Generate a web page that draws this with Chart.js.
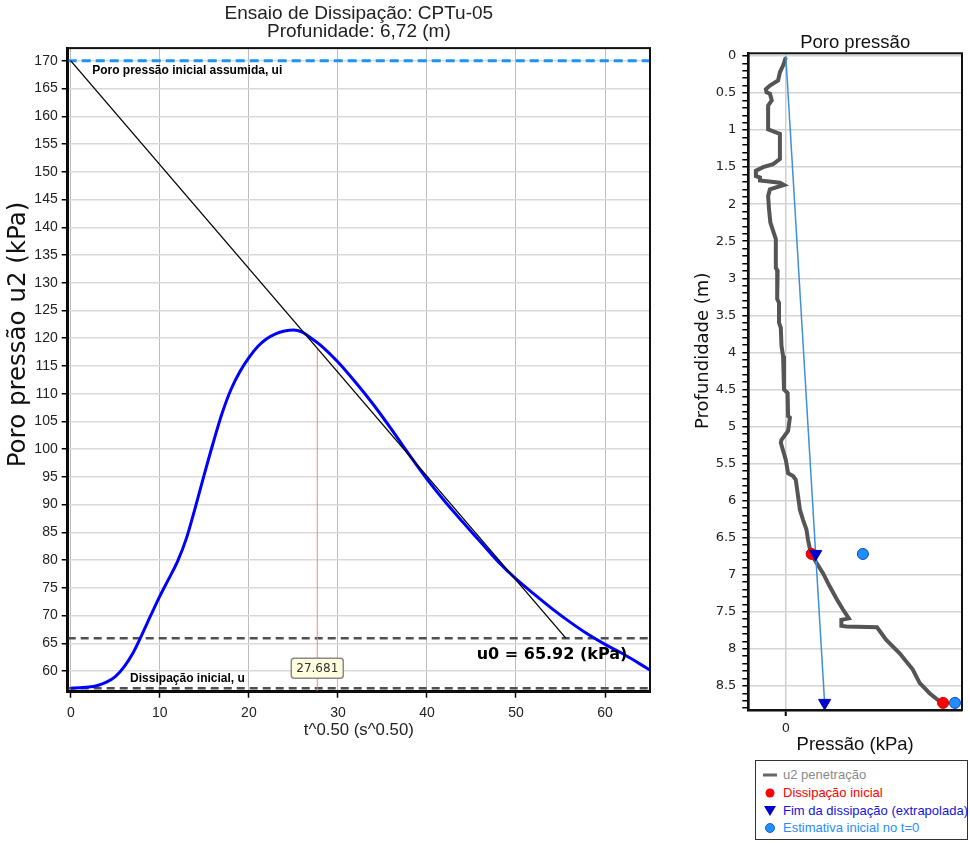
<!DOCTYPE html>
<html>
<head>
<meta charset="utf-8">
<script src="https://cdn.jsdelivr.net/npm/chart.js@4.4.0/dist/chart.umd.min.js"></script>
<style>
body { margin: 0; background: #fff; width: 970px; height: 843px; position: relative; overflow: hidden; font-family: "Liberation Sans", Arial, sans-serif; }
#grafDiss { position: absolute; left: 0; top: 0; }
#grafPerfil { position: absolute; left: 680px; top: 0; }
#legenda { position: absolute; left: 755px; top: 760px; width: 211px; height: 78px; border: 1.5px solid #333; background: #fff; }
.item { position: absolute; left: 0; height: 18px; line-height: 18px; font-size: 13px; white-space: nowrap; }
.item svg { position: absolute; left: 6px; top: 2px; }
.item span { position: absolute; left: 27px; top: 0; }
</style>
</head>
<body>
<canvas id="grafDiss" width="660" height="760"></canvas>
<canvas id="grafPerfil" width="290" height="760"></canvas>
<div id="legenda"></div>
<script>
// ensaio de dissipacao CPTu-05, prof. 6,72 m
var tempoRaiz = [0, 1, 2, 3, 4, 5, 6, 7, 8, 9, 10, 11, 12, 13, 14, 15, 16, 17, 18, 19, 20, 21, 22, 23, 24, 25, 26, 27, 28, 30, 32, 34, 36, 38, 40, 42, 44, 46, 48, 50, 52, 54, 56, 58, 60, 62, 64, 65];
var poroPressao = [56.9, 57.0, 57.1, 57.4, 58.0, 59.0, 60.8, 63.3, 66.6, 70.1, 73.5, 76.6, 79.8, 84.0, 89.6, 95.5, 101.2, 106.5, 110.8, 114.0, 116.5, 118.5, 119.9, 120.8, 121.3, 121.5, 121.1, 120.0, 118.8, 115.7, 112.0, 108.0, 103.6, 99.0, 94.6, 90.6, 86.9, 83.3, 79.7, 76.6, 73.9, 71.3, 68.9, 66.7, 64.8, 63.1, 61.2, 60.2];
var uiAssumida = 170;
var uInicial = 56.9;
var u0 = 65.92;
var tangenteX = [0, 55.6];
var tangenteY = [170, 65.92];
var t50 = 27.681;
var xTicksDiss = [0, 10, 20, 30, 40, 50, 60];
var yTicksDiss = [60, 65, 70, 75, 80, 85, 90, 95, 100, 105, 110, 115, 120, 125, 130, 135, 140, 145, 150, 155, 160, 165, 170];

// perfil de poro pressao
var profU2 = [0.02, 0.13, 0.22, 0.33, 0.40, 0.45, 0.49, 0.51, 0.60, 0.67, 0.99, 1.05, 1.39, 1.46, 1.50, 1.55, 1.62, 1.64, 1.68, 1.71, 1.74, 1.80, 1.89, 2.07, 2.25, 2.36, 2.47, 2.86, 2.90, 3.01, 3.28, 3.33, 3.60, 3.67, 3.91, 4.05, 4.50, 4.55, 4.86, 4.88, 5.06, 5.18, 5.22, 5.45, 5.63, 5.67, 5.72, 5.94, 6.12, 6.26, 6.39, 6.53, 6.71, 6.84, 6.98, 7.16, 7.32, 7.47, 7.59, 7.61, 7.69, 7.70, 7.71, 7.88, 8.06, 8.28, 8.46, 8.60, 8.71, 8.73];
var u2Penetracao = [0, -6, -13, -17, -35, -44, -42.5, -35, -31, -39, -39, -13, -13, -28, -50, -66, -66, -57, -57, -13, -4, -35, -39, -37, -34, -28, -22, -22, -18, -19, -19, -15, -15, -11, -9.5, -6, -4, 4, 5, 9, 5, -9.5, -11, 0, 5, 16, 22, 27, 31, 38, 45.5, 49, 55, 67.5, 82, 97, 111.5, 126, 139, 122.5, 122.5, 133.5, 201, 221.5, 251, 280, 295, 317, 339, 346];
var profHidro = [0, 8.73];
var uHidro = [0, 85.6];
var profEnsaios = [6.72, 8.73];
var dissInicial = [56.9, 346.8];
var fimDissipacao = [65.92, 85.6];
var estimativaT0 = [170, 373];

var legendaTextos = ['u2 penetração', 'Dissipação inicial', 'Fim da dissipação (extrapolada)', 'Estimativa inicial no t=0'];
var legendaCores = ['#8a8a8a', '#ff0000', '#1414e0', '#2a8cff'];

function pontos(xs, ys) {
    var out = [];
    for (var i = 0; i < xs.length; i++) {
        out.push({x: xs[i], y: ys[i]});
    }
    return out;
}

function soTicks(lista) {
    return function(scale) {
        scale.ticks = lista.map(function(v) { return {value: v}; });
    };
}

var moldura = {
    id: 'moldura',
    afterDatasetsDraw: function(chart) {
        var a = chart.chartArea, ctx = chart.ctx;
        ctx.save();
        ctx.strokeStyle = '#111';
        ctx.lineWidth = 2;
        ctx.strokeRect(a.left, a.top, a.right - a.left, a.bottom - a.top);
        ctx.restore();
    }
};

var tituloY = {
    id: 'tituloY',
    afterDraw: function(chart, args, opts) {
        var a = chart.chartArea, ctx = chart.ctx;
        ctx.save();
        ctx.translate(opts.x, a.top + (a.bottom - a.top) * opts.frac);
        ctx.rotate(-Math.PI / 2);
        ctx.font = opts.font;
        ctx.fillStyle = '#111';
        ctx.textAlign = 'center';
        ctx.textBaseline = 'middle';
        ctx.fillText(opts.text, 0, 0);
        ctx.restore();
    }
};

var rotulos = {
    id: 'rotulos',
    afterDatasetsDraw: function(chart) {
        var x = chart.scales.x, y = chart.scales.y, ctx = chart.ctx;
        ctx.save();
        ctx.fillStyle = '#000';
        ctx.textBaseline = 'middle';
        ctx.font = 'bold 12px "Liberation Sans", Arial';
        ctx.fillText('Poro pressão inicial assumida, ui', x.getPixelForValue(2.4), y.getPixelForValue(168.3));
        ctx.fillText('Dissipação inicial, u', x.getPixelForValue(6.66), y.getPixelForValue(58.7));
        ctx.font = 'bold 16px "DejaVu Sans"';
        ctx.textAlign = 'right';
        ctx.fillText('u0 = ' + u0.toFixed(2) + ' (kPa)', x.getPixelForValue(62.5), y.getPixelForValue(62.9));

        var bx = x.getPixelForValue(t50), by = y.getPixelForValue(60.5);
        ctx.font = '12px "DejaVu Sans"';
        var w = ctx.measureText(t50.toFixed(3)).width + 10, h = 20;
        ctx.fillStyle = '#ffffe0';
        ctx.strokeStyle = '#8a8a8a';
        ctx.lineWidth = 1.5;
        ctx.beginPath();
        ctx.roundRect(bx - w / 2, by - h / 2, w, h, 3);
        ctx.fill();
        ctx.stroke();
        ctx.fillStyle = '#333';
        ctx.textAlign = 'center';
        ctx.fillText(t50.toFixed(3), bx, by + 1);
        ctx.restore();
    }
};

var xMinD = -0.35, xMaxD = 65.05, yMinD = 56.27, yMaxD = 172.3;
var topoT50 = tangenteY[0] + (tangenteY[1] - tangenteY[0]) * (t50 - tangenteX[0]) / (tangenteX[1] - tangenteX[0]);

new Chart(document.getElementById('grafDiss'), {
    type: 'line',
    data: {
        datasets: [
            {data: pontos(tangenteX, tangenteY), borderColor: '#000', borderWidth: 1.3, pointRadius: 0, order: 0},
            {data: pontos(tempoRaiz, poroPressao), borderColor: '#0000ff', borderWidth: 3, pointRadius: 0, cubicInterpolationMode: 'monotone', order: 1},
            {data: [{x: t50, y: yMinD}, {x: t50, y: topoT50}], borderColor: '#ff8080', borderWidth: 1, pointRadius: 0, order: 2},
            {data: [{x: xMinD, y: uiAssumida}, {x: xMaxD, y: uiAssumida}], borderColor: '#1e90ff', borderWidth: 3, borderDash: [9, 5], pointRadius: 0, order: 3},
            {data: [{x: xMinD, y: u0}, {x: xMaxD, y: u0}], borderColor: '#505050', borderWidth: 2.5, borderDash: [8, 5], pointRadius: 0, order: 4},
            {data: [{x: xMinD, y: uInicial}, {x: xMaxD, y: uInicial}], borderColor: '#505050', borderWidth: 2.5, borderDash: [8, 5], pointRadius: 0, order: 5}
        ]
    },
    options: {
        responsive: false,
        animation: false,
        layout: {padding: {right: 10}},
        plugins: {
            legend: {display: false},
            tooltip: {enabled: false},
            title: {
                display: true,
                fullSize: false,
                text: ['Ensaio de Dissipação: CPTu-05', 'Profunidade: 6,72 (m)'],
                color: '#222',
                font: {size: 19, family: '"Liberation Sans", Arial', weight: 'normal', lineHeight: 0.95},
                padding: {top: 5, bottom: 7}
            },
            tituloY: {text: 'Poro pressão u2 (kPa)', font: '24.5px "DejaVu Sans"', x: 19, frac: 0.445}
        },
        scales: {
            x: {
                type: 'linear', min: xMinD, max: xMaxD,
                afterBuildTicks: soTicks(xTicksDiss),
                afterFit: function(s) { s.height = 68.3; },
                ticks: {color: '#222', font: {size: 14, family: '"Liberation Sans", Arial'}, padding: 7},
                grid: {color: '#bdbdbd', lineWidth: 1, tickColor: '#000', tickLength: 6, tickWidth: 1.5},
                border: {color: '#000', width: 3},
                title: {display: true, text: 't^0.50 (s^0.50)', color: '#222', font: {size: 16.8, family: '"Liberation Sans", Arial'}, padding: {bottom: 20}}
            },
            y: {
                type: 'linear', min: yMinD, max: yMaxD,
                afterBuildTicks: soTicks(yTicksDiss),
                afterFit: function(s) { s.width = 67.7; },
                ticks: {color: '#222', font: {size: 14, family: '"Liberation Sans", Arial'}, padding: 4},
                grid: {color: '#dadada', lineWidth: 1.5, tickColor: '#000', tickLength: 6, tickWidth: 1.5},
                border: {color: '#000', width: 3}
            }
        }
    },
    plugins: [moldura, rotulos, tituloY]
});

var profTicks = [];
for (var k = 0; k <= 88; k++) { profTicks.push(k / 10); }

function ehMaior(v) {
    return Math.abs(v * 2 - Math.round(v * 2)) < 1e-6;
}

new Chart(document.getElementById('grafPerfil'), {
    type: 'line',
    data: {
        datasets: [
            {label: legendaTextos[3], data: pontos(estimativaT0, profEnsaios), showLine: false, pointRadius: 5.5, pointBackgroundColor: '#1e90ff', pointBorderColor: '#0a40d0', pointBorderWidth: 1, clip: false, order: 0},
            {label: legendaTextos[2], data: pontos(fimDissipacao, profEnsaios), showLine: false, pointStyle: 'triangle', rotation: 180, pointRadius: 7, pointBackgroundColor: '#0000cd', pointBorderColor: '#0000cd', clip: false, order: 1},
            {label: legendaTextos[1], data: pontos(dissInicial, profEnsaios), showLine: false, pointRadius: 5.5, pointBackgroundColor: '#ff0000', pointBorderColor: '#d00000', pointBorderWidth: 1, clip: false, order: 2},
            {label: 'hidrostática', data: pontos(uHidro, profHidro), borderColor: '#3f8fdb', borderWidth: 1.5, pointRadius: 0, order: 3},
            {label: legendaTextos[0], data: pontos(u2Penetracao, profU2), borderColor: '#555555', borderWidth: 4, pointRadius: 0, order: 4}
        ]
    },
    options: {
        responsive: false,
        animation: false,
        layout: {padding: {right: 7}},
        plugins: {
            legend: {display: false},
            tooltip: {enabled: false},
            title: {
                display: true,
                fullSize: false,
                text: 'Poro pressão',
                color: '#111',
                font: {size: 18.5, family: '"Liberation Sans", Arial', weight: 'normal', lineHeight: 1.0},
                padding: {top: 33.8, bottom: 1}
            },
            tituloY: {text: 'Profundidade (m)', font: '18px "DejaVu Sans"', x: 23, frac: 0.453}
        },
        scales: {
            x: {
                type: 'linear', min: -82.7, max: 388.5,
                afterBuildTicks: soTicks([0]),
                afterFit: function(s) { s.height = 50; },
                ticks: {color: '#222', font: {size: 13, family: '"DejaVu Sans"'}, padding: 5},
                grid: {color: '#d0d0d0', lineWidth: 1.5, tickColor: '#000', tickLength: 6, tickWidth: 2},
                border: {color: '#000', width: 2.5},
                title: {display: true, text: 'Pressão (kPa)', color: '#111', font: {size: 18.5, family: '"Liberation Sans", Arial'}, padding: {bottom: 4}}
            },
            y: {
                type: 'linear', reverse: true, min: -0.036, max: 8.826,
                afterBuildTicks: soTicks(profTicks),
                afterFit: function(s) { s.width = 68.3; },
                ticks: {
                    autoSkip: false, color: '#222', font: {size: 13, family: '"DejaVu Sans"'}, padding: 6,
                    callback: function(v) { return ehMaior(v) ? String(Math.round(v * 10) / 10) : ''; }
                },
                grid: {
                    color: function(c) { return c.tick && ehMaior(c.tick.value) ? '#d4d4d4' : 'rgba(0,0,0,0)'; },
                    lineWidth: 1.5, tickColor: '#000', tickLength: 6, tickWidth: 1.5
                },
                border: {color: '#000', width: 2.5}
            }
        }
    },
    plugins: [moldura, tituloY]
});

// legenda em html
var caixa = document.getElementById('legenda');
var marcadores = [
    '<svg width="16" height="14"><line x1="1" y1="7" x2="15" y2="7" stroke="#666" stroke-width="3"/></svg>',
    '<svg width="16" height="14"><circle cx="8" cy="7" r="4.5" fill="#ff0000"/></svg>',
    '<svg width="16" height="14"><polygon points="2,2 14,2 8,12" fill="#0000cd"/></svg>',
    '<svg width="16" height="14"><circle cx="8" cy="7" r="4.5" fill="#1e90ff" stroke="#0a40d0" stroke-width="0.8"/></svg>'
];
var linhasY = [5, 23, 41, 58];
for (var i = 0; i < legendaTextos.length; i++) {
    var d = document.createElement('div');
    d.className = 'item';
    d.style.top = linhasY[i] + 'px';
    d.innerHTML = marcadores[i] + '<span style="color:' + legendaCores[i] + '">' + legendaTextos[i] + '</span>';
    caixa.appendChild(d);
}
</script>
</body>
</html>
